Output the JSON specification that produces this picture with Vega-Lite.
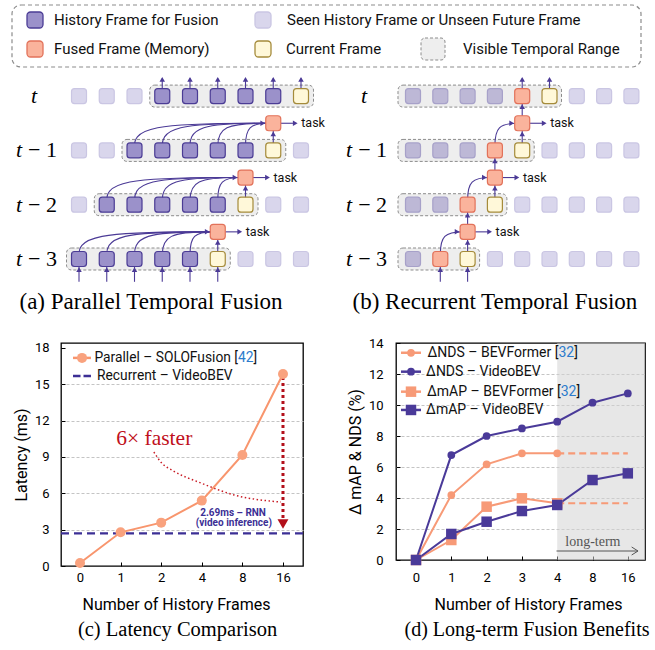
{
"$schema": "https://vega.github.io/schema/vega-lite/v6.json",
"padding": 0,
"spacing": 0,
"background": "white",
"config": {
  "view": {"stroke": null},
  "font": "Roboto",
  "axis": {"labelFont": "Roboto", "labelFontSize": 13, "labelColor": "#000", "titleFont": "Roboto", "titleFontSize": 16, "titleFontWeight": "normal", "titleColor": "#000", "tickColor": "#000", "tickWidth": 1, "domain": false, "tickSize": -4}
},
"datasets": {
  "leg_items": [
    {"kind": "hist", "x": 35, "tx": 54, "y": 20, "label": "History Frame for Fusion"},
    {"kind": "seen", "x": 263, "tx": 287, "y": 20, "label": "Seen History Frame or Unseen Future Frame"},
    {"kind": "fused", "x": 35, "tx": 54, "y": 49, "label": "Fused Frame (Memory)"},
    {"kind": "cur", "x": 263, "tx": 286, "y": 49, "label": "Current Frame"},
    {"kind": "range", "x": 433, "tx": 463, "y": 49, "label": "Visible Temporal Range"}
  ],
  "a_sq": [
    {"col":0,"lvl":3,"kind":"seen"},{"col":1,"lvl":3,"kind":"seen"},{"col":2,"lvl":3,"kind":"seen"},{"col":3,"lvl":3,"kind":"hist"},{"col":4,"lvl":3,"kind":"hist"},{"col":5,"lvl":3,"kind":"hist"},{"col":6,"lvl":3,"kind":"hist"},{"col":7,"lvl":3,"kind":"hist"},{"col":8,"lvl":3,"kind":"cur"},
    {"col":0,"lvl":2,"kind":"seen"},{"col":1,"lvl":2,"kind":"seen"},{"col":2,"lvl":2,"kind":"hist"},{"col":3,"lvl":2,"kind":"hist"},{"col":4,"lvl":2,"kind":"hist"},{"col":5,"lvl":2,"kind":"hist"},{"col":6,"lvl":2,"kind":"hist"},{"col":7,"lvl":2,"kind":"cur"},{"col":8,"lvl":2,"kind":"seen"},
    {"col":0,"lvl":1,"kind":"seen"},{"col":1,"lvl":1,"kind":"hist"},{"col":2,"lvl":1,"kind":"hist"},{"col":3,"lvl":1,"kind":"hist"},{"col":4,"lvl":1,"kind":"hist"},{"col":5,"lvl":1,"kind":"hist"},{"col":6,"lvl":1,"kind":"cur"},{"col":7,"lvl":1,"kind":"seen"},{"col":8,"lvl":1,"kind":"seen"},
    {"col":0,"lvl":0,"kind":"hist"},{"col":1,"lvl":0,"kind":"hist"},{"col":2,"lvl":0,"kind":"hist"},{"col":3,"lvl":0,"kind":"hist"},{"col":4,"lvl":0,"kind":"hist"},{"col":5,"lvl":0,"kind":"cur"},{"col":6,"lvl":0,"kind":"seen"},{"col":7,"lvl":0,"kind":"seen"},{"col":8,"lvl":0,"kind":"seen"}
  ],
  "a_fused": [{"col":7,"lvl":2.5},{"col":6,"lvl":1.5},{"col":5,"lvl":0.5}],
  "a_box": [{"col":3,"c1":8,"lvl":3},{"col":2,"c1":7,"lvl":2},{"col":1,"c1":6,"lvl":1},{"col":0,"c1":5,"lvl":0}],
  "a_curve": [
    {"id":"a2_2","ord":0,"col":2,"lvl":2},{"id":"a2_2","ord":1,"col":2,"lvl":2.5},{"id":"a2_2","ord":2,"col":7,"lvl":2.5},
    {"id":"a2_3","ord":0,"col":3,"lvl":2},{"id":"a2_3","ord":1,"col":3,"lvl":2.5},{"id":"a2_3","ord":2,"col":7,"lvl":2.5},
    {"id":"a2_4","ord":0,"col":4,"lvl":2},{"id":"a2_4","ord":1,"col":4,"lvl":2.5},{"id":"a2_4","ord":2,"col":7,"lvl":2.5},
    {"id":"a2_5","ord":0,"col":5,"lvl":2},{"id":"a2_5","ord":1,"col":5,"lvl":2.5},{"id":"a2_5","ord":2,"col":7,"lvl":2.5},
    {"id":"a2_6","ord":0,"col":6,"lvl":2},{"id":"a2_6","ord":1,"col":6,"lvl":2.5},{"id":"a2_6","ord":2,"col":7,"lvl":2.5},
    {"id":"a1_1","ord":0,"col":1,"lvl":1},{"id":"a1_1","ord":1,"col":1,"lvl":1.5},{"id":"a1_1","ord":2,"col":6,"lvl":1.5},
    {"id":"a1_2","ord":0,"col":2,"lvl":1},{"id":"a1_2","ord":1,"col":2,"lvl":1.5},{"id":"a1_2","ord":2,"col":6,"lvl":1.5},
    {"id":"a1_3","ord":0,"col":3,"lvl":1},{"id":"a1_3","ord":1,"col":3,"lvl":1.5},{"id":"a1_3","ord":2,"col":6,"lvl":1.5},
    {"id":"a1_4","ord":0,"col":4,"lvl":1},{"id":"a1_4","ord":1,"col":4,"lvl":1.5},{"id":"a1_4","ord":2,"col":6,"lvl":1.5},
    {"id":"a1_5","ord":0,"col":5,"lvl":1},{"id":"a1_5","ord":1,"col":5,"lvl":1.5},{"id":"a1_5","ord":2,"col":6,"lvl":1.5},
    {"id":"a0_0","ord":0,"col":0,"lvl":0},{"id":"a0_0","ord":1,"col":0,"lvl":0.5},{"id":"a0_0","ord":2,"col":5,"lvl":0.5},
    {"id":"a0_1","ord":0,"col":1,"lvl":0},{"id":"a0_1","ord":1,"col":1,"lvl":0.5},{"id":"a0_1","ord":2,"col":5,"lvl":0.5},
    {"id":"a0_2","ord":0,"col":2,"lvl":0},{"id":"a0_2","ord":1,"col":2,"lvl":0.5},{"id":"a0_2","ord":2,"col":5,"lvl":0.5},
    {"id":"a0_3","ord":0,"col":3,"lvl":0},{"id":"a0_3","ord":1,"col":3,"lvl":0.5},{"id":"a0_3","ord":2,"col":5,"lvl":0.5},
    {"id":"a0_4","ord":0,"col":4,"lvl":0},{"id":"a0_4","ord":1,"col":4,"lvl":0.5},{"id":"a0_4","ord":2,"col":5,"lvl":0.5}
  ],
  "a_vline": [
    {"col":7,"lvl":2,"l1":2.5},{"col":6,"lvl":1,"l1":1.5},{"col":5,"lvl":0,"l1":0.5},
    {"col":3,"lvl":3,"l1":3.33},{"col":4,"lvl":3,"l1":3.33},{"col":5,"lvl":3,"l1":3.33},{"col":6,"lvl":3,"l1":3.33},{"col":7,"lvl":3,"l1":3.33},{"col":8,"lvl":3,"l1":3.33},
    {"col":0,"lvl":-0.42,"l1":0},{"col":1,"lvl":-0.42,"l1":0},{"col":2,"lvl":-0.42,"l1":0},{"col":3,"lvl":-0.42,"l1":0},{"col":4,"lvl":-0.42,"l1":0},{"col":5,"lvl":-0.42,"l1":0}
  ],
  "a_uph": [
    {"col":7,"lvl":2.5},{"col":6,"lvl":1.5},{"col":5,"lvl":0.5},
    {"col":0,"lvl":0},{"col":1,"lvl":0},{"col":2,"lvl":0},{"col":3,"lvl":0},{"col":4,"lvl":0},{"col":5,"lvl":0},
    {"col":3,"lvl":3.5},{"col":4,"lvl":3.5},{"col":5,"lvl":3.5},{"col":6,"lvl":3.5},{"col":7,"lvl":3.5},{"col":8,"lvl":3.5}
  ],
  "b_sq": [
    {"col":0,"lvl":3,"kind":"seenbox"},{"col":1,"lvl":3,"kind":"seenbox"},{"col":2,"lvl":3,"kind":"seenbox"},{"col":3,"lvl":3,"kind":"seenbox"},{"col":4,"lvl":3,"kind":"fused"},{"col":5,"lvl":3,"kind":"cur"},{"col":6,"lvl":3,"kind":"seen"},{"col":7,"lvl":3,"kind":"seen"},{"col":8,"lvl":3,"kind":"seen"},
    {"col":0,"lvl":2,"kind":"seenbox"},{"col":1,"lvl":2,"kind":"seenbox"},{"col":2,"lvl":2,"kind":"seenbox"},{"col":3,"lvl":2,"kind":"fused"},{"col":4,"lvl":2,"kind":"cur"},{"col":5,"lvl":2,"kind":"seen"},{"col":6,"lvl":2,"kind":"seen"},{"col":7,"lvl":2,"kind":"seen"},{"col":8,"lvl":2,"kind":"seen"},
    {"col":0,"lvl":1,"kind":"seenbox"},{"col":1,"lvl":1,"kind":"seenbox"},{"col":2,"lvl":1,"kind":"fused"},{"col":3,"lvl":1,"kind":"cur"},{"col":4,"lvl":1,"kind":"seen"},{"col":5,"lvl":1,"kind":"seen"},{"col":6,"lvl":1,"kind":"seen"},{"col":7,"lvl":1,"kind":"seen"},{"col":8,"lvl":1,"kind":"seen"},
    {"col":0,"lvl":0,"kind":"seenbox"},{"col":1,"lvl":0,"kind":"fused"},{"col":2,"lvl":0,"kind":"cur"},{"col":3,"lvl":0,"kind":"seen"},{"col":4,"lvl":0,"kind":"seen"},{"col":5,"lvl":0,"kind":"seen"},{"col":6,"lvl":0,"kind":"seen"},{"col":7,"lvl":0,"kind":"seen"},{"col":8,"lvl":0,"kind":"seen"}
  ],
  "b_fused": [{"col":2,"lvl":0.5},{"col":3,"lvl":1.5},{"col":4,"lvl":2.5}],
  "b_box": [{"col":0,"c1":5,"lvl":3},{"col":0,"c1":4,"lvl":2},{"col":0,"c1":3,"lvl":1},{"col":0,"c1":2,"lvl":0}],
  "b_curve": [
    {"id":"b0","ord":0,"col":1,"lvl":0},{"id":"b0","ord":1,"col":1,"lvl":0.5},{"id":"b0","ord":2,"col":2,"lvl":0.5},
    {"id":"b1","ord":0,"col":2,"lvl":1},{"id":"b1","ord":1,"col":2,"lvl":1.5},{"id":"b1","ord":2,"col":3,"lvl":1.5},
    {"id":"b2","ord":0,"col":3,"lvl":2},{"id":"b2","ord":1,"col":3,"lvl":2.5},{"id":"b2","ord":2,"col":4,"lvl":2.5}
  ],
  "b_vline": [
    {"col":2,"lvl":0,"l1":1},{"col":3,"lvl":1,"l1":2},{"col":4,"lvl":2,"l1":3},
    {"col":4,"lvl":3,"l1":3.33},{"col":5,"lvl":3,"l1":3.33},
    {"col":1,"lvl":-0.42,"l1":0},{"col":2,"lvl":-0.42,"l1":0}
  ],
  "b_uph": [
    {"col":2,"lvl":0.5},{"col":3,"lvl":1.5},{"col":4,"lvl":2.5},
    {"col":2,"lvl":1},{"col":3,"lvl":2},{"col":4,"lvl":3},
    {"col":1,"lvl":0},{"col":2,"lvl":0},
    {"col":4,"lvl":3.5},{"col":5,"lvl":3.5}
  ],
  "c_par": [
    {"idx":0,"frames":"0","val":0.25},{"idx":1,"frames":"1","val":2.78},{"idx":2,"frames":"2","val":3.58},
    {"idx":3,"frames":"4","val":5.4},{"idx":4,"frames":"8","val":9.17},{"idx":5,"frames":"16","val":15.85}
  ],
  "c_minor": [
    {"val":0.5},{"val":1},{"val":1.5},{"val":2},{"val":2.5},
    {"val":3.5},{"val":4},{"val":4.5},{"val":5},{"val":5.5},
    {"val":6.5},{"val":7},{"val":7.5},{"val":8},{"val":8.5},
    {"val":9.5},{"val":10},{"val":10.5},{"val":11},{"val":11.5},
    {"val":12.5},{"val":13},{"val":13.5},{"val":14},{"val":14.5},
    {"val":15.5},{"val":16},{"val":16.5},{"val":17},{"val":17.5}
  ],
  "d_minor": [
    {"val":0.5},{"val":1},{"val":1.5},{"val":2.5},{"val":3},{"val":3.5},
    {"val":4.5},{"val":5},{"val":5.5},{"val":6.5},{"val":7},{"val":7.5},
    {"val":8.5},{"val":9},{"val":9.5},{"val":10.5},{"val":11},{"val":11.5},
    {"val":12.5},{"val":13},{"val":13.5}
  ],
  "d_vals": [
    {"model":"BEVFormer","metric":"NDS","idx":0,"val":0},{"model":"BEVFormer","metric":"NDS","idx":1,"val":4.19},{"model":"BEVFormer","metric":"NDS","idx":2,"val":6.17},{"model":"BEVFormer","metric":"NDS","idx":3,"val":6.88},{"model":"BEVFormer","metric":"NDS","idx":4,"val":6.88},
    {"model":"BEVFormer","metric":"mAP","idx":0,"val":0},{"model":"BEVFormer","metric":"mAP","idx":1,"val":1.29},{"model":"BEVFormer","metric":"mAP","idx":2,"val":3.44},{"model":"BEVFormer","metric":"mAP","idx":3,"val":3.98},{"model":"BEVFormer","metric":"mAP","idx":4,"val":3.66},
    {"model":"VideoBEV","metric":"NDS","idx":0,"val":0},{"model":"VideoBEV","metric":"NDS","idx":1,"val":6.77},{"model":"VideoBEV","metric":"NDS","idx":2,"val":8.0},{"model":"VideoBEV","metric":"NDS","idx":3,"val":8.49},{"model":"VideoBEV","metric":"NDS","idx":4,"val":8.92},{"model":"VideoBEV","metric":"NDS","idx":5,"val":10.15},{"model":"VideoBEV","metric":"NDS","idx":6,"val":10.75},
    {"model":"VideoBEV","metric":"mAP","idx":0,"val":0},{"model":"VideoBEV","metric":"mAP","idx":1,"val":1.68},{"model":"VideoBEV","metric":"mAP","idx":2,"val":2.47},{"model":"VideoBEV","metric":"mAP","idx":3,"val":3.16},{"model":"VideoBEV","metric":"mAP","idx":4,"val":3.55},{"model":"VideoBEV","metric":"mAP","idx":5,"val":5.16},{"model":"VideoBEV","metric":"mAP","idx":6,"val":5.59}
  ],
  "d_ext": [
    {"metric":"NDS","idx":4,"val":6.88},{"metric":"NDS","idx":6,"val":6.88},
    {"metric":"mAP","idx":4,"val":3.66},{"metric":"mAP","idx":6,"val":3.66}
  ]
},
"vconcat": [
  {
    "width": 655, "height": 72,
    "encoding": {
      "x": {"field": "x", "type": "quantitative", "axis": null, "scale": {"domain": [0, 655], "nice": false, "zero": false}},
      "y": {"field": "y", "type": "quantitative", "axis": null, "scale": {"domain": [0, 72], "nice": false, "zero": false, "reverse": true}}
    },
    "layer": [
      {"data": {"values": [{"x": 12, "x2": 641, "y": 5, "y2": 67}]},
       "mark": {"type": "rect", "fill": "white", "stroke": "#8c8c8c", "strokeWidth": 1.2, "strokeDash": [4, 3], "cornerRadius": 9},
       "encoding": {"x2": {"field": "x2"}, "y2": {"field": "y2"}}},
      {"data": {"name": "leg_items"}, "transform": [{"filter": "datum.kind !== 'range'"}],
       "mark": {"type": "rect", "cornerRadius": 3.5, "strokeWidth": 1.3, "xOffset": -8, "x2Offset": 8, "yOffset": -8, "y2Offset": 8},
       "encoding": {"x2": {"field": "x"}, "y2": {"field": "y"},
         "fill": {"field": "kind", "type": "nominal", "scale": {"domain": ["hist","seen","seenbox","fused","cur"], "range": ["#9b91ca","#d9d6ec","#bdb8d6","#fab39c","#fff8d9"]}, "legend": null},
         "stroke": {"field": "kind", "type": "nominal", "scale": {"domain": ["hist","seen","seenbox","fused","cur"], "range": ["#4b3c95","#cac6e3","#a7a1c9","#e2725a","#a58b3b"]}, "legend": null}}},
      {"data": {"name": "leg_items"}, "transform": [{"filter": "datum.kind === 'range'"}],
       "mark": {"type": "rect", "fill": "#eeeeee", "stroke": "#8c8c8c", "strokeWidth": 1, "strokeDash": [3, 2], "cornerRadius": 4, "xOffset": -12, "x2Offset": 12, "yOffset": -11, "y2Offset": 11},
       "encoding": {"x2": {"field": "x"}, "y2": {"field": "y"}}},
      {"data": {"name": "leg_items"},
       "mark": {"type": "text", "align": "left", "baseline": "middle", "fontSize": 15, "color": "#111"},
       "encoding": {"x": {"field": "tx", "type": "quantitative"}, "text": {"field": "label"}}}
    ]
  },
  {
    "spacing": 0,
    "hconcat": [
      {
        "width": 330, "height": 264,
        "encoding": {
          "x": {"field": "col", "type": "quantitative", "axis": null, "scale": {"domain": [-2.847, 9.045], "nice": false, "zero": false}},
          "y": {"field": "lvl", "type": "quantitative", "axis": null, "scale": {"domain": [-1.418, 3.444], "nice": false, "zero": false}}
        },
        "layer": [
          {"data": {"name": "a_box"}, "mark": {"type": "rect", "fill": "#eeeeee", "stroke": "#8c8c8c", "strokeWidth": 1, "strokeDash": [3, 2], "cornerRadius": 5, "xOffset": -12.5, "x2Offset": 12.5, "yOffset": -11, "y2Offset": 11}, "encoding": {"x2": {"field": "c1"}, "y2": {"field": "lvl"}}},
          {"data": {"name": "a_curve"}, "mark": {"type": "line", "interpolate": "basis", "color": "#4b3a96", "strokeWidth": 1.1}, "encoding": {"detail": {"field": "id"}, "order": {"field": "ord"}}},
          {"data": {"name": "a_vline"}, "mark": {"type": "rule", "color": "#4b3a96", "strokeWidth": 1.1}, "encoding": {"y2": {"field": "l1"}}},
          {"data": {"name": "a_fused"}, "mark": {"type": "rule", "color": "#4b3a96", "strokeWidth": 1.1, "xOffset": 7.5, "x2Offset": 21}, "encoding": {"x2": {"field": "col"}}},
          {"data": {"name": "a_sq"}, "mark": {"type": "rect", "cornerRadius": 3, "strokeWidth": 1.2, "xOffset": -7.5, "x2Offset": 7.5, "yOffset": -7.5, "y2Offset": 7.5},
           "encoding": {"x2": {"field": "col"}, "y2": {"field": "lvl"},
             "fill": {"field": "kind", "type": "nominal", "scale": {"domain": ["hist","seen","seenbox","fused","cur"], "range": ["#9b91ca","#d9d6ec","#bdb8d6","#fab39c","#fff8d9"]}, "legend": null},
             "stroke": {"field": "kind", "type": "nominal", "scale": {"domain": ["hist","seen","seenbox","fused","cur"], "range": ["#4b3c95","#cac6e3","#a7a1c9","#e2725a","#a58b3b"]}, "legend": null}}},
          {"data": {"name": "a_fused"}, "mark": {"type": "rect", "fill": "#fab39c", "stroke": "#e2725a", "cornerRadius": 3, "strokeWidth": 1.2, "xOffset": -7.5, "x2Offset": 7.5, "yOffset": -7.5, "y2Offset": 7.5}, "encoding": {"x2": {"field": "col"}, "y2": {"field": "lvl"}}},
          {"data": {"name": "a_fused"}, "mark": {"type": "point", "shape": "triangle-right", "filled": true, "color": "#4b3a96", "size": 30, "opacity": 1, "xOffset": -10.5}},
          {"data": {"name": "a_fused"}, "mark": {"type": "point", "shape": "triangle-right", "filled": true, "color": "#4b3a96", "size": 30, "opacity": 1, "xOffset": 22}},
          {"data": {"name": "a_uph"}, "mark": {"type": "point", "shape": "triangle-up", "filled": true, "color": "#4b3a96", "size": 30, "opacity": 1, "yOffset": 10.5}},
          {"data": {"name": "a_fused"}, "mark": {"type": "text", "text": "task", "align": "left", "baseline": "middle", "fontSize": 12.5, "dx": 28, "color": "#111"}},
          {"data": {"values": [{"col": -1.62, "lvl": 3}]}, "mark": {"type": "text", "text": "t", "font": "Liberation Serif", "fontStyle": "italic", "fontSize": 22, "align": "center", "baseline": "middle", "color": "#000"}},
          {"data": {"values": [{"col": -1.62, "lvl": 2}, {"col": -1.62, "lvl": 1}, {"col": -1.62, "lvl": 0}]}, "mark": {"type": "text", "text": "t", "font": "Liberation Serif", "fontStyle": "italic", "fontSize": 22, "align": "right", "baseline": "middle", "dx": -12, "color": "#000"}},
          {"data": {"values": [{"col": -1.62, "lvl": 2, "n": "− 1"}, {"col": -1.62, "lvl": 1, "n": "− 2"}, {"col": -1.62, "lvl": 0, "n": "− 3"}]}, "mark": {"type": "text", "font": "Liberation Serif", "fontSize": 22, "align": "left", "baseline": "middle", "dx": -6, "color": "#000"}, "encoding": {"text": {"field": "n"}}},
          {"data": {"values": [{"col": 2.595, "lvl": -0.921, "cap": "(a) Parallel Temporal Fusion"}]}, "mark": {"type": "text", "font": "Liberation Serif", "fontSize": 23, "align": "center", "baseline": "alphabetic", "color": "#000"}, "encoding": {"text": {"field": "cap"}}}
        ]
      },
      {
        "width": 325, "height": 264,
        "encoding": {
          "x": {"field": "col", "type": "quantitative", "axis": null, "scale": {"domain": [-3.04, 8.864], "nice": false, "zero": false}},
          "y": {"field": "lvl", "type": "quantitative", "axis": null, "scale": {"domain": [-1.418, 3.444], "nice": false, "zero": false}}
        },
        "layer": [
          {"data": {"name": "b_box"}, "mark": {"type": "rect", "fill": "#eeeeee", "stroke": "#8c8c8c", "strokeWidth": 1, "strokeDash": [3, 2], "cornerRadius": 5, "xOffset": -15, "x2Offset": 12, "yOffset": -11, "y2Offset": 11}, "encoding": {"x2": {"field": "c1"}, "y2": {"field": "lvl"}}},
          {"data": {"name": "b_curve"}, "mark": {"type": "line", "interpolate": "basis", "color": "#4b3a96", "strokeWidth": 1.1}, "encoding": {"detail": {"field": "id"}, "order": {"field": "ord"}}},
          {"data": {"name": "b_vline"}, "mark": {"type": "rule", "color": "#4b3a96", "strokeWidth": 1.1}, "encoding": {"y2": {"field": "l1"}}},
          {"data": {"name": "b_fused"}, "mark": {"type": "rule", "color": "#4b3a96", "strokeWidth": 1.1, "xOffset": 7.5, "x2Offset": 21}, "encoding": {"x2": {"field": "col"}}},
          {"data": {"name": "b_sq"}, "mark": {"type": "rect", "cornerRadius": 3, "strokeWidth": 1.2, "xOffset": -7.5, "x2Offset": 7.5, "yOffset": -7.5, "y2Offset": 7.5},
           "encoding": {"x2": {"field": "col"}, "y2": {"field": "lvl"},
             "fill": {"field": "kind", "type": "nominal", "scale": {"domain": ["hist","seen","seenbox","fused","cur"], "range": ["#9b91ca","#d9d6ec","#bdb8d6","#fab39c","#fff8d9"]}, "legend": null},
             "stroke": {"field": "kind", "type": "nominal", "scale": {"domain": ["hist","seen","seenbox","fused","cur"], "range": ["#4b3c95","#cac6e3","#a7a1c9","#e2725a","#a58b3b"]}, "legend": null}}},
          {"data": {"name": "b_fused"}, "mark": {"type": "rect", "fill": "#fab39c", "stroke": "#e2725a", "cornerRadius": 3, "strokeWidth": 1.2, "xOffset": -7.5, "x2Offset": 7.5, "yOffset": -7.5, "y2Offset": 7.5}, "encoding": {"x2": {"field": "col"}, "y2": {"field": "lvl"}}},
          {"data": {"name": "b_fused"}, "mark": {"type": "point", "shape": "triangle-right", "filled": true, "color": "#4b3a96", "size": 30, "opacity": 1, "xOffset": -10.5}},
          {"data": {"name": "b_fused"}, "mark": {"type": "point", "shape": "triangle-right", "filled": true, "color": "#4b3a96", "size": 30, "opacity": 1, "xOffset": 22}},
          {"data": {"name": "b_uph"}, "mark": {"type": "point", "shape": "triangle-up", "filled": true, "color": "#4b3a96", "size": 30, "opacity": 1, "yOffset": 10.5}},
          {"data": {"name": "b_fused"}, "mark": {"type": "text", "text": "task", "align": "left", "baseline": "middle", "fontSize": 12.5, "dx": 28, "color": "#111"}},
          {"data": {"values": [{"col": -1.79, "lvl": 3}]}, "mark": {"type": "text", "text": "t", "font": "Liberation Serif", "fontStyle": "italic", "fontSize": 22, "align": "center", "baseline": "middle", "color": "#000"}},
          {"data": {"values": [{"col": -1.79, "lvl": 2}, {"col": -1.79, "lvl": 1}, {"col": -1.79, "lvl": 0}]}, "mark": {"type": "text", "text": "t", "font": "Liberation Serif", "fontStyle": "italic", "fontSize": 22, "align": "right", "baseline": "middle", "dx": -12, "color": "#000"}},
          {"data": {"values": [{"col": -1.79, "lvl": 2, "n": "− 1"}, {"col": -1.79, "lvl": 1, "n": "− 2"}, {"col": -1.79, "lvl": 0, "n": "− 3"}]}, "mark": {"type": "text", "font": "Liberation Serif", "fontSize": 22, "align": "left", "baseline": "middle", "dx": -6, "color": "#000"}, "encoding": {"text": {"field": "n"}}},
          {"data": {"values": [{"col": 3.0, "lvl": -0.921, "cap": "(b) Recurrent Temporal Fusion"}]}, "mark": {"type": "text", "font": "Liberation Serif", "fontSize": 23, "align": "center", "baseline": "alphabetic", "color": "#000"}, "encoding": {"text": {"field": "cap"}}}
        ]
      }
    ]
  },
  {
    "spacing": 0,
    "hconcat": [
      {"width": 12, "height": 10, "data": {"values": [{}]}, "mark": {"type": "point", "opacity": 0}},
      {
        "width": 242, "height": 223,
        "view": {"stroke": "#000", "strokeWidth": 1.3},
        "title": {"text": "(c) Latency Comparison", "orient": "bottom", "font": "Liberation Serif", "fontSize": 20.5, "fontWeight": "normal", "color": "#000", "offset": 8, "dx": -4.5},
        "encoding": {
          "x": {"field": "idx", "type": "quantitative", "scale": {"domain": [-0.468, 5.493], "nice": false, "zero": false},
                "axis": {"values": [0, 1, 2, 3, 4, 5], "labelExpr": "['0','1','2','4','8','16'][datum.value]", "title": "Number of History Frames", "grid": false, "labelPadding": 9, "titlePadding": 12, "titleX": 115}},
          "y": {"field": "val", "type": "quantitative", "scale": {"domain": [0, 18.41], "nice": false, "zero": false},
                "axis": {"values": [0, 3, 6, 9, 12, 15, 18], "title": "Latency (ms)", "grid": true, "gridDash": [3, 2], "gridColor": "#c4c4c4", "gridOpacity": {"condition": {"test": "datum.value === 0 || datum.value === 18", "value": 0}, "value": 1}, "labelPadding": 16, "titlePadding": 5}}
        },
        "layer": [
          {"data": {"name": "c_minor"}, "mark": {"type": "rule", "color": "#000", "strokeWidth": 1, "x2Offset": 2.5}, "encoding": {"x": {"datum": -0.468}, "x2": {"datum": -0.468}}},
          {"data": {"values": [{"idx": -0.468, "idx2": 5.493, "val": 2.69}]}, "mark": {"type": "rule", "color": "#3c2f95", "strokeWidth": 2.2, "strokeDash": [8, 5]}, "encoding": {"x2": {"field": "idx2"}}},
          {"data": {"values": [{"idx": 5, "val": 15.6, "val2": 3.9}]}, "mark": {"type": "rule", "color": "#b3101b", "strokeWidth": 3, "strokeDash": [3, 3]}, "encoding": {"y2": {"field": "val2"}}},
          {"data": {"values": [{"idx": 5, "val": 3.47}]}, "mark": {"type": "point", "shape": "triangle-down", "filled": true, "color": "#b3101b", "size": 120, "opacity": 1}},
          {"data": {"values": [{"idx": 1.82, "val": 9.41}, {"idx": 2.0, "val": 8.55}, {"idx": 2.3, "val": 7.85}, {"idx": 2.98, "val": 6.85}, {"idx": 3.8, "val": 5.86}, {"idx": 4.95, "val": 5.28}]}, "mark": {"type": "line", "interpolate": "monotone", "color": "#c81a24", "strokeWidth": 1.5, "strokeDash": [1.5, 2.5]}},
          {"data": {"name": "c_par"}, "mark": {"type": "line", "color": "#f8956d", "strokeWidth": 2}},
          {"data": {"name": "c_par"}, "mark": {"type": "point", "filled": true, "color": "#f9a27e", "size": 100, "opacity": 1}},
          {"data": {"values": [{"idx": 1.83, "val": 10.45}]}, "mark": {"type": "text", "text": "6× faster", "font": "Liberation Serif", "fontSize": 21.5, "color": "#c0101c", "align": "center", "baseline": "middle"}},
          {"data": {"values": [{"idx": 3.77, "val": 4.4, "t": "2.69ms – RNN"}, {"idx": 3.79, "val": 3.52, "t": "(video inference)"}]}, "mark": {"type": "text", "fontSize": 10, "fontWeight": "bold", "color": "#3c2f95", "align": "center", "baseline": "middle"}, "encoding": {"text": {"field": "t"}}},
          {"data": {"values": [{"idx": -0.172, "idx2": 0.27, "val": 17.18}]}, "mark": {"type": "rule", "color": "#f8956d", "strokeWidth": 2.5}, "encoding": {"x2": {"field": "idx2"}}},
          {"data": {"values": [{"idx": 0.05, "val": 17.18}]}, "mark": {"type": "point", "filled": true, "color": "#f9a27e", "size": 100, "opacity": 1}},
          {"data": {"values": [{"idx": -0.172, "idx2": 0.27, "val": 15.69}]}, "mark": {"type": "rule", "color": "#3c2f95", "strokeWidth": 2.5, "strokeDash": [7.5, 3]}, "encoding": {"x2": {"field": "idx2"}}},
          {"data": {"values": [{"idx": 3.892, "val": 17.18}]}, "mark": {"type": "text", "text": "Parallel – SOLOFusion [", "fontSize": 13.8, "color": "#111", "align": "right", "baseline": "middle"}},
          {"data": {"values": [{"idx": 3.892, "val": 17.18}]}, "mark": {"type": "text", "text": "42", "fontSize": 13.8, "color": "#2b7bcc", "align": "left", "baseline": "middle"}},
          {"data": {"values": [{"idx": 3.892, "val": 17.18}]}, "mark": {"type": "text", "text": "]", "fontSize": 13.8, "color": "#111", "align": "left", "baseline": "middle", "dx": 15.6}},
          {"data": {"values": [{"idx": 0.419, "val": 15.69}]}, "mark": {"type": "text", "text": "Recurrent – VideoBEV", "fontSize": 13.8, "color": "#111", "align": "left", "baseline": "middle"}}
        ]
      },
      {"width": 41, "height": 10, "data": {"values": [{}]}, "mark": {"type": "point", "opacity": 0}},
      {
        "width": 249, "height": 217,
        "view": {"stroke": "#000", "strokeWidth": 1.3},
        "title": {"text": "(d) Long-term Fusion Benefits", "orient": "bottom", "font": "Liberation Serif", "fontSize": 20, "fontWeight": "normal", "color": "#000", "offset": 8, "dx": 6.5},
        "encoding": {
          "x": {"field": "idx", "type": "quantitative", "scale": {"domain": [-0.567, 6.487], "nice": false, "zero": false},
                "axis": {"values": [0, 1, 2, 3, 4, 5, 6], "labelExpr": "['0','1','2','3','4','8','16'][datum.value]", "title": "Number of History Frames", "grid": false, "labelPadding": 15, "titlePadding": 12, "titleX": 132}},
          "y": {"field": "val", "type": "quantitative", "scale": {"domain": [0, 14], "nice": false, "zero": false},
                "axis": {"values": [0, 2, 4, 6, 8, 10, 12, 14], "title": "Δ mAP & NDS (%)", "grid": true, "gridDash": [3, 2], "gridColor": "#c4c4c4", "gridOpacity": {"condition": {"test": "datum.value === 0 || datum.value === 14", "value": 0}, "value": 1}, "labelPadding": 17, "titlePadding": 5}}
        },
        "layer": [
          {"data": {"values": [{"idx": 4, "idx2": 6.487, "val": 0, "val2": 14}]}, "mark": {"type": "rect", "fill": "#d4d4d4", "opacity": 0.55}, "encoding": {"x2": {"field": "idx2"}, "y2": {"field": "val2"}}},
          {"data": {"name": "d_minor"}, "mark": {"type": "rule", "color": "#000", "strokeWidth": 1, "x2Offset": 2.5}, "encoding": {"x": {"datum": -0.567}, "x2": {"datum": -0.567}}},
          {"data": {"name": "d_ext"}, "mark": {"type": "line", "color": "#f79a77", "strokeWidth": 2.2, "strokeDash": [7, 4]}, "encoding": {"detail": {"field": "metric"}}},
          {"data": {"name": "d_vals"}, "transform": [{"filter": "datum.model === 'BEVFormer'"}], "mark": {"type": "line", "color": "#f79a77", "strokeWidth": 2}, "encoding": {"detail": {"field": "metric"}}},
          {"data": {"name": "d_vals"}, "transform": [{"filter": "datum.model === 'VideoBEV'"}], "mark": {"type": "line", "color": "#4a3a99", "strokeWidth": 2}, "encoding": {"detail": {"field": "metric"}}},
          {"data": {"name": "d_vals"}, "transform": [{"filter": "datum.metric === 'NDS'"}], "mark": {"type": "point", "shape": "circle", "filled": true, "size": 60, "opacity": 1},
           "encoding": {"color": {"field": "model", "type": "nominal", "scale": {"domain": ["BEVFormer", "VideoBEV"], "range": ["#f79a77", "#4a3a99"]}, "legend": null}}},
          {"data": {"name": "d_vals"}, "transform": [{"filter": "datum.metric === 'mAP'"}], "mark": {"type": "point", "shape": "square", "filled": true, "size": 110, "opacity": 1},
           "encoding": {"color": {"field": "model", "type": "nominal", "scale": {"domain": ["BEVFormer", "VideoBEV"], "range": ["#f79a77", "#4a3a99"]}, "legend": null}}},
          {"data": {"values": [{"idx": 5.01, "val": 1.18}]}, "mark": {"type": "text", "text": "long-term", "font": "Liberation Serif", "fontSize": 14, "color": "#555", "align": "center", "baseline": "middle"}},
          {"data": {"values": [{"idx": 3.98, "idx2": 6.28, "val": 0.58}]}, "mark": {"type": "rule", "color": "#555", "strokeWidth": 1}, "encoding": {"x2": {"field": "idx2"}}},
          {"data": {"values": [{"idx": 6.29, "val": 0.58}]}, "mark": {"type": "point", "shape": "M-1.6,-1L0,0L-1.6,1", "filled": false, "color": "#555", "strokeWidth": 1, "size": 64, "opacity": 1}},
          {"data": {"values": [{"idx": -0.425, "idx2": 0.141, "val": 13.37, "model": "BEVFormer"}, {"idx": -0.425, "idx2": 0.141, "val": 12.15, "model": "VideoBEV"}, {"idx": -0.425, "idx2": 0.141, "val": 10.86, "model": "BEVFormer"}, {"idx": -0.425, "idx2": 0.141, "val": 9.68, "model": "VideoBEV"}]},
           "mark": {"type": "rule", "strokeWidth": 2.5},
           "encoding": {"x2": {"field": "idx2"}, "color": {"field": "model", "type": "nominal", "scale": {"domain": ["BEVFormer", "VideoBEV"], "range": ["#f79a77", "#4a3a99"]}, "legend": null}}},
          {"data": {"values": [{"idx": -0.142, "val": 13.37, "model": "BEVFormer"}, {"idx": -0.142, "val": 12.15, "model": "VideoBEV"}]}, "mark": {"type": "point", "shape": "circle", "filled": true, "size": 60, "opacity": 1},
           "encoding": {"color": {"field": "model", "type": "nominal", "scale": {"domain": ["BEVFormer", "VideoBEV"], "range": ["#f79a77", "#4a3a99"]}, "legend": null}}},
          {"data": {"values": [{"idx": -0.142, "val": 10.86, "model": "BEVFormer"}, {"idx": -0.142, "val": 9.68, "model": "VideoBEV"}]}, "mark": {"type": "point", "shape": "square", "filled": true, "size": 110, "opacity": 1},
           "encoding": {"color": {"field": "model", "type": "nominal", "scale": {"domain": ["BEVFormer", "VideoBEV"], "range": ["#f79a77", "#4a3a99"]}, "legend": null}}},
          {"data": {"values": [{"idx": 4.036, "val": 13.37, "t": "ΔNDS – BEVFormer ["}, {"idx": 4.1, "val": 10.86, "t": "ΔmAP – BEVFormer ["}]}, "mark": {"type": "text", "fontSize": 14, "color": "#111", "align": "right", "baseline": "middle"}, "encoding": {"text": {"field": "t"}}},
          {"data": {"values": [{"idx": 4.036, "val": 13.37}, {"idx": 4.1, "val": 10.86}]}, "mark": {"type": "text", "text": "32", "fontSize": 14, "color": "#2b7bcc", "align": "left", "baseline": "middle"}},
          {"data": {"values": [{"idx": 4.036, "val": 13.37}, {"idx": 4.1, "val": 10.86}]}, "mark": {"type": "text", "text": "]", "fontSize": 14, "color": "#111", "align": "left", "baseline": "middle", "dx": 15.8}},
          {"data": {"values": [{"idx": 0.283, "val": 12.15, "t": "ΔNDS – VideoBEV"}, {"idx": 0.283, "val": 9.68, "t": "ΔmAP – VideoBEV"}]}, "mark": {"type": "text", "fontSize": 14, "color": "#111", "align": "left", "baseline": "middle"}, "encoding": {"text": {"field": "t"}}}
        ]
      }
    ]
  }
]
}
